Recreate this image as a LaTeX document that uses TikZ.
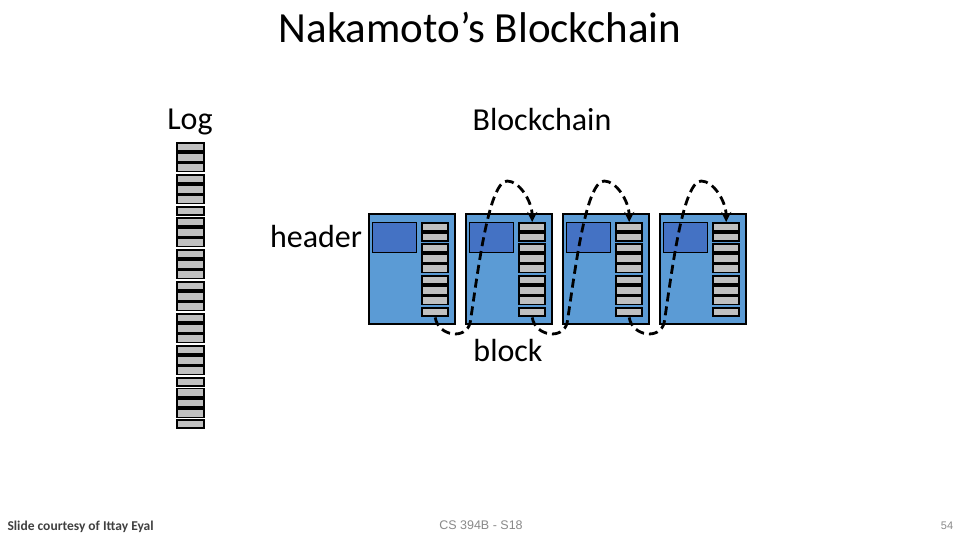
\documentclass[tikz,border=0pt]{standalone}
\usepackage{fontspec}
\setmainfont{Carlito}
\newfontfamily\footfont{Liberation Sans}
\usetikzlibrary{arrows.meta, calc}
\definecolor{blockblue}{RGB}{91, 155, 213}
\definecolor{headblue}{RGB}{68, 114, 196}
\definecolor{txgray}{RGB}{192, 192, 192}
\definecolor{footgray}{RGB}{137, 137, 137}
\definecolor{creditgray}{RGB}{64, 64, 64}

% a run of n transactions: x, y (top), width, n
\newcommand{\txgroup}[4]{%
  \fill[black] ({#1},{#2}) rectangle ++(#3,{#4*10.3-0.6});
  \foreach \k in {1,...,#4}
    \fill[txgray] ({#1+2},{#2+1.8+(\k-1)*10.3}) rectangle ++({#3-4},6.6);
}

\tikzset{
  block/.style={draw=black, line width=2pt, fill=blockblue, anchor=north west,
    minimum width=86pt, minimum height=110pt, inner sep=0pt},
  header/.style={draw=black, line width=1.4pt, fill=headblue, anchor=north west,
    minimum width=44pt, minimum height=30pt, inner sep=0pt},
  txcol/.style={anchor=north west, minimum width=28pt, minimum height=95pt, inner sep=0pt},
  bigtext/.style={font=\fontsize{32}{38}\selectfont},
  link/.style={dash pattern=on 9pt off 5pt, line width=2.8pt, -{Stealth[length=10pt, width=10pt]}},
}

\begin{document}
\begin{tikzpicture}[x=1pt, y=-1pt]
  \useasboundingbox (0,0) rectangle (960,540);

  % titles
  \node[font=\fontsize{43}{50}\selectfont] (title) at (480,28) {Nakamoto’s Blockchain};
  \node[bigtext] (logtitle) at (190,122) {Log};
  \node[bigtext] (chaintitle) at (542,120) {Blockchain};

  % the log
  \foreach \y/\n in {142/3,174/3,206/1,217/3,249/3,281/3,313/3,345/3,377/1,387.5/3,419/1}
    \txgroup{176}{\y}{29}{\n};

  % the blocks
  \foreach \i in {1,...,4}{
    \pgfmathsetmacro{\bx}{368+97*(\i-1)}
    \node[block] (blk\i) at (\bx,213) {};
    \node[header] (hdr\i) at ({\bx+4},222) {};
    \node[txcol] (tx\i) at ({\bx+53},222) {};
    \foreach \y/\n in {0/1,10/1,21/3,53/3,85/1}
      \txgroup{\bx+53}{222+\y}{28}{\n};
  }

  % hash links
  \foreach \a/\b in {1/2,2/3,3/4}
    \draw[link] (tx\a.south) .. controls +(3,19) and +(-4,18) .. ($(tx\a.south)+(35,5)$)
      .. controls +(7,-45) and +(-19,0) .. ($(tx\b.north)+(-25,-41)$)
      .. controls +(12,0) and +(0,-21) .. (tx\b.north);

  \node[bigtext] (headerlbl) at (316,237) {header};
  \node[bigtext] (blocklbl) at (508,350) {block};

  % footer
  \node[anchor=west, font=\bfseries\fontsize{13.5}{15}\selectfont, text=creditgray] (credit) at (4,527) {Slide courtesy of Ittay Eyal};
  \node[font=\footfont\fontsize{12.5}{14}\selectfont, text=footgray] (course) at (481,525) {CS 394B - S18};
  \node[font=\footfont\fontsize{11}{13}\selectfont, text=footgray] (pagenum) at (947,526) {54};
\end{tikzpicture}
\end{document}
